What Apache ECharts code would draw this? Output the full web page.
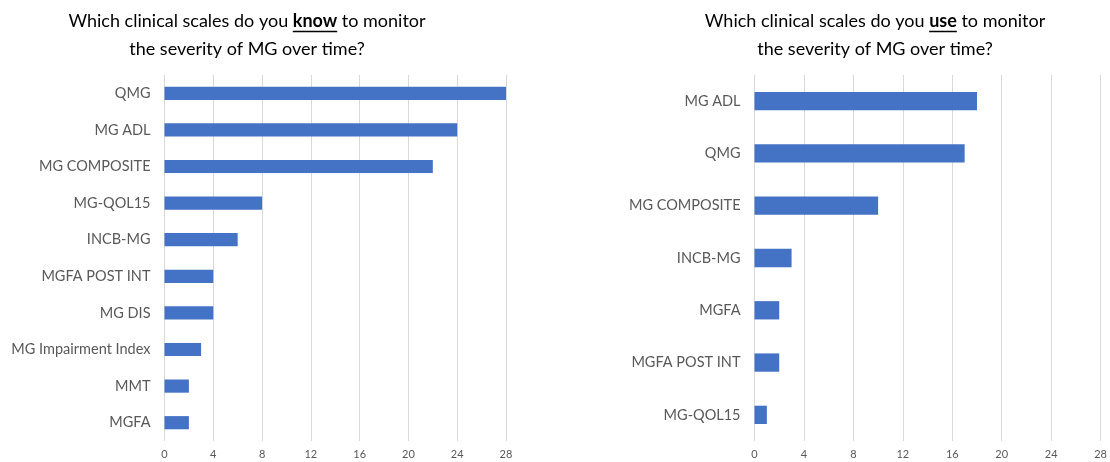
<!DOCTYPE html>
<html>
<head>
<meta charset="utf-8">
<script src="https://cdn.jsdelivr.net/npm/echarts@6/dist/echarts.min.js"></script>
<style>
html,body{margin:0;padding:0;background:#fff;}
#chart{width:1110px;height:462px;}
</style>
</head>
<body>
<div id="chart"></div>
<script>
// ---- data ----
var knowCategories = ['QMG','MG ADL','MG COMPOSITE','MG-QOL15','INCB-MG','MGFA POST INT','MG DIS','MG Impairment Index','MMT','MGFA'];
var knowValues = [28,24,22,8,6,4,4,3,2,2];
var useCategories = ['MG ADL','QMG','MG COMPOSITE','INCB-MG','MGFA','MGFA POST INT','MG-QOL15'];
var useValues = [18,17,10,3,2,2,1];
var xTicks = [0,4,8,12,16,20,24,28];
var knowTitle = ['Which clinical scales do you ', 'know', ' to monitor', 'the severity of MG over time?'];
var useTitle = ['Which clinical scales do you ', 'use', ' to monitor', 'the severity of MG over time?'];

var FONT = 'Lato';
var TITLE_SIZE = 18;
var BAR = '#4472C4';
var GRID = '#d9d9d9';
var LABEL = '#595959';

var chart = echarts.init(document.getElementById('chart'));

function measure(text, weight){
  var c = document.createElement('canvas').getContext('2d');
  c.font = weight + ' ' + TITLE_SIZE + 'px ' + FONT;
  return c.measureText(text).width;
}
function titleText(parts){
  return '{a|' + parts[0] + '}{b|' + parts[1] + '}{a|' + parts[2] + '}\n{a|' + parts[3] + '}';
}
var rich = {
  a:{fontFamily:FONT,fontSize:TITLE_SIZE,color:'#000',fontWeight:'normal',lineHeight:28},
  b:{fontFamily:FONT,fontSize:TITLE_SIZE,color:'#000',fontWeight:'bold',lineHeight:28}
};
function underline(parts, cx, y){
  var pre = measure(parts[0],'normal');
  var w = measure(parts[1],'bold');
  var total = pre + w + measure(parts[2],'normal');
  var x0 = cx - total/2 + pre;
  return {type:'line', shape:{x1:x0,y1:y,x2:x0+w,y2:y}, style:{stroke:'#000',lineWidth:1.5}};
}

var leftCx = 247, rightCx = 875;

function xAxis(gi){
  return {
    type:'value', gridIndex:gi, min:0, max:28, interval:4,
    axisLine:{show:false}, axisTick:{show:false},
    splitLine:{show:true,lineStyle:{color:GRID,width:1}},
    axisLabel:{color:LABEL,fontFamily:FONT,fontSize:11,margin:8,
      formatter:function(v){ return xTicks.indexOf(v)>=0 ? String(v) : ''; }}
  };
}
function yAxis(gi, cats){
  return {
    type:'category', gridIndex:gi, data:cats, inverse:true,
    axisLine:{show:false}, axisTick:{show:false},
    axisLabel:{color:LABEL,fontFamily:FONT,fontSize:14.5,margin:14}
  };
}

chart.setOption({
  animation:false,
  backgroundColor:'#fff',
  title:[
    {text:titleText(knowTitle), left:leftCx, top:7.5, padding:0, textAlign:'center',
      textStyle:{rich:rich,fontFamily:FONT,fontSize:TITLE_SIZE,fontWeight:'normal'}},
    {text:titleText(useTitle), left:rightCx, top:7.5, padding:0, textAlign:'center',
      textStyle:{rich:rich,fontFamily:FONT,fontSize:TITLE_SIZE,fontWeight:'normal'}}
  ],
  grid:[
    {left:164.5, top:75, width:341.5, height:366, containLabel:false},
    {left:754.5, top:75, width:347, height:366, containLabel:false}
  ],
  xAxis:[xAxis(0), xAxis(1)],
  yAxis:[yAxis(0, knowCategories), yAxis(1, useCategories)],
  series:[
    {type:'bar', xAxisIndex:0, yAxisIndex:0, data:knowValues, barCategoryGap:'64%',
      itemStyle:{color:BAR}},
    {type:'bar', xAxisIndex:1, yAxisIndex:1, data:useValues, barCategoryGap:'65%',
      itemStyle:{color:BAR}}
  ],
  graphic:[
    underline(knowTitle, leftCx, 31.5),
    underline(useTitle, rightCx, 31.5)
  ]
});
</script>
</body>
</html>
